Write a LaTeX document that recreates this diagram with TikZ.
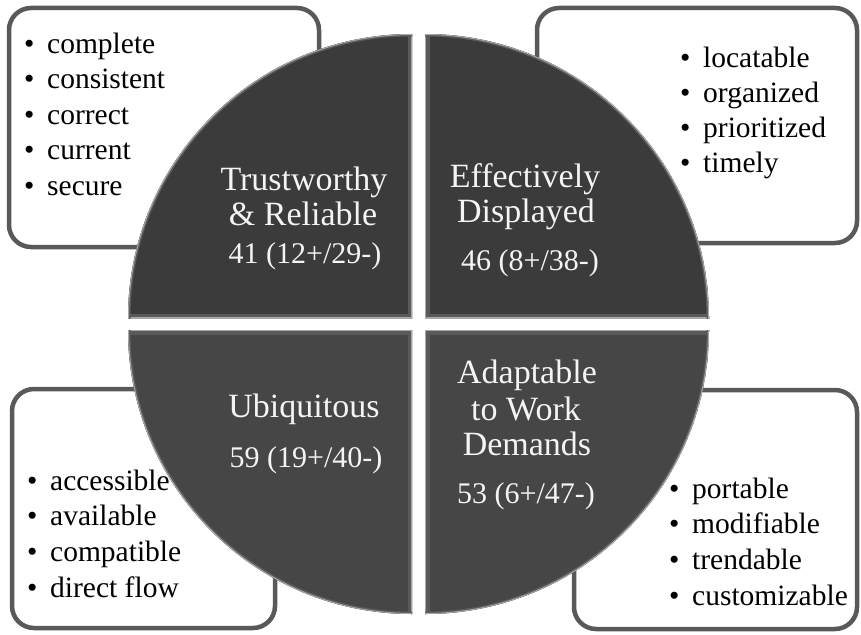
\documentclass[tikz,border=0pt]{standalone}
\usepackage{fontspec}
\setmainfont{Liberation Serif}
\definecolor{boxline}{HTML}{595959}
\definecolor{qtop}{HTML}{3B3B3B}
\definecolor{qbot}{HTML}{464646}
\definecolor{bevdark}{HTML}{5A5A5A}
\definecolor{bevlight}{HTML}{A8A8A8}
\definecolor{qtext}{HTML}{F4F4F4}
\newcommand{\lbul}{\makebox[23pt][l]{\textbullet}}
\begin{document}
\begin{tikzpicture}[x=1pt,y=-1pt,
  listbox/.style={draw=boxline, line width=4.5pt, fill=white, rounded corners=22pt},
  listitem/.style={anchor=base west, inner sep=0pt, font=\rmfamily\fontsize{29.5}{35}\selectfont},
  qtitle/.style={anchor=base, inner sep=0pt, text=qtext, font=\rmfamily\fontsize{34}{40}\selectfont},
  qnum/.style={anchor=base, inner sep=0pt, text=qtext, font=\rmfamily\fontsize{30}{36}\selectfont}]
\useasboundingbox (0,0) rectangle (861,634);
\fill[white] (0,0) rectangle (861,634);

% list boxes (behind the circle)
\draw[listbox] (9,8) rectangle (319,247);
\draw[listbox] (537,8) rectangle (857,243);
\draw[listbox] (12,389) rectangle (275,628);
\draw[listbox] (574,390) rectangle (857,629);

% four quadrants of the circle
\foreach \cx/\cy/\sx/\sy/\qc in {412/318/-1/-1/qtop, 425/318/1/-1/qtop, 412/330/-1/1/qbot, 425/330/1/1/qbot}{
  \begin{scope}
    \clip (\cx,\cy) rectangle ++({\sx*300},{\sy*300});
    \clip (\cx,\cy) circle[radius=284pt];
    \fill[\qc] (\cx,\cy) circle[radius=284pt];
    \draw[bevdark, line width=9pt] (\cx,\cy) rectangle ++({\sx*300},{\sy*300});
    \draw[bevlight, line width=2.5pt] (\cx,\cy) rectangle ++({\sx*300},{\sy*300});
    \draw[bevdark, line width=5pt] (\cx,\cy) circle[radius=284pt];
    \draw[bevlight, line width=2pt] (\cx,\cy) circle[radius=284pt];
  \end{scope}
}

% quadrant texts
\node[qtitle] (tlT1) at (304,190) {Trustworthy};
\node[qtitle] (tlT2) at (303,225) {\& Reliable};
\node[qnum]   (tlN)  at (305,263) {41 (12+/29-)};

\node[qtitle] (trT1) at (525,187) {Effectively};
\node[qtitle] (trT2) at (526,222) {Displayed};
\node[qnum]   (trN)  at (530,270) {46 (8+/38-)};

\node[qtitle] (blT1) at (304,417) {Ubiquitous};
\node[qnum]   (blN)  at (306,467) {59 (19+/40-)};

\node[qtitle] (brT1) at (527,383) {Adaptable};
\node[qtitle] (brT2) at (526,420) {to Work};
\node[qtitle] (brT3) at (527,455) {Demands};
\node[qnum]   (brN)  at (526,503) {53 (6+/47-)};

% list items
\node[listitem] (tl1) at (24,53)    {\lbul complete};
\node[listitem] (tl2) at (24,88.5)  {\lbul consistent};
\node[listitem] (tl3) at (24,124)   {\lbul correct};
\node[listitem] (tl4) at (24,159.5) {\lbul current};
\node[listitem] (tl5) at (24,195)   {\lbul secure};

\node[listitem] (tr1) at (680,67)  {\lbul locatable};
\node[listitem] (tr2) at (680,102) {\lbul organized};
\node[listitem] (tr3) at (680,137) {\lbul prioritized};
\node[listitem] (tr4) at (680,172) {\lbul timely};

\node[listitem] (bl1) at (27,490)   {\lbul accessible};
\node[listitem] (bl2) at (27,525.7) {\lbul available};
\node[listitem] (bl3) at (27,561.4) {\lbul compatible};
\node[listitem] (bl4) at (27,597)   {\lbul direct flow};

\node[listitem] (br1) at (669,498)   {\lbul portable};
\node[listitem] (br2) at (669,533.7) {\lbul modifiable};
\node[listitem] (br3) at (669,569.4) {\lbul trendable};
\node[listitem] (br4) at (669,605)   {\lbul customizable};
\end{tikzpicture}
\end{document}
